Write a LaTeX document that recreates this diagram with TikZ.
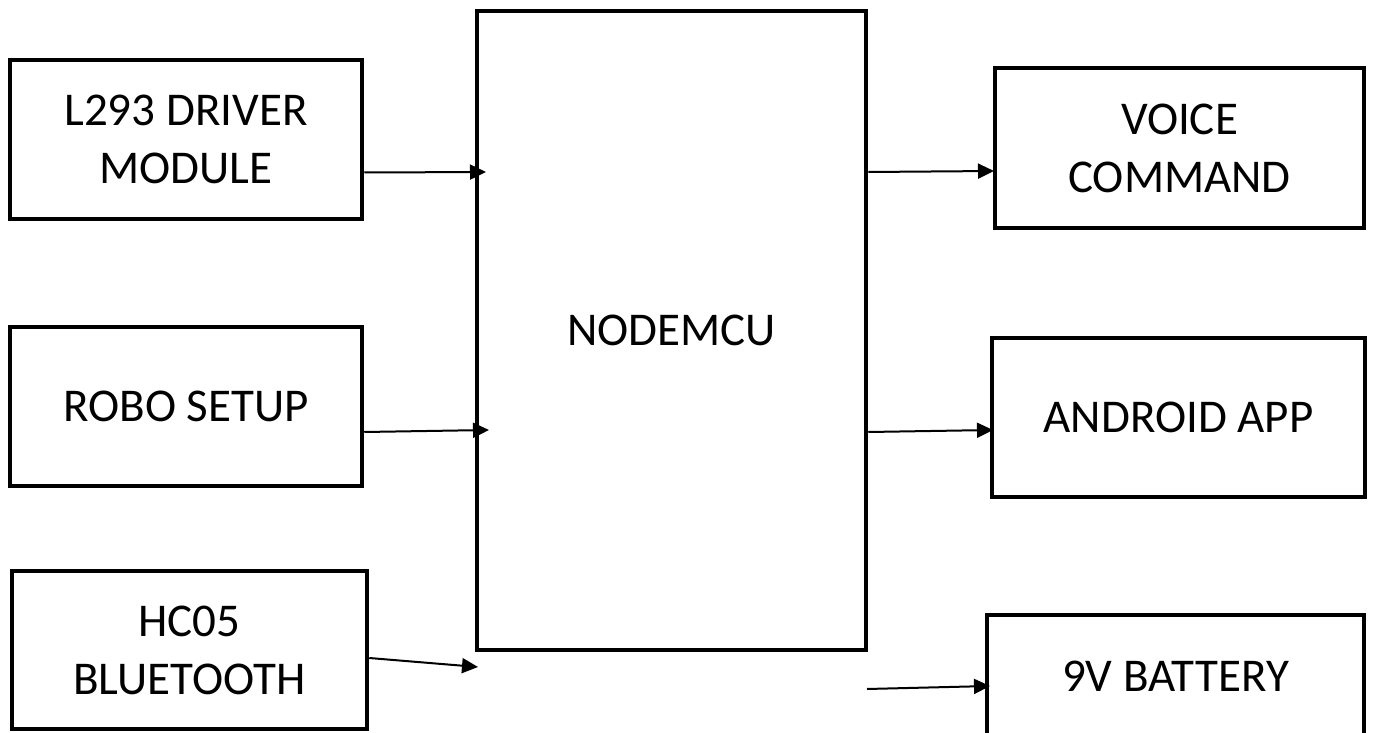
\documentclass[tikz,border=0pt]{standalone}
\usepackage{fontspec}
\setmainfont{Carlito}
\usetikzlibrary{arrows.meta}
\begin{document}
\begin{tikzpicture}[x=1pt,y=-1pt,
  blk/.style={draw, line width=4.5pt, inner sep=0pt, align=center,
    font=\fontsize{47}{58}\selectfont},
  arr/.style={line width=2pt, -{Triangle[length=16pt,width=15pt]}}]
\useasboundingbox (0,0) rectangle (1393,733);
\clip (0,0) rectangle (1393,733);
% left column
\node[blk, minimum width=352pt, minimum height=159pt] (l293) at (186,139.5) {L293 DRIVER\\MODULE};
\node[blk, minimum width=352pt, minimum height=159pt] (robo) at (186,406.5) {ROBO SETUP};
\node[blk, minimum width=355pt, minimum height=158pt] (hc05) at (189.5,650) {HC05\\BLUETOOTH};
% centre
\node[blk, minimum width=389pt, minimum height=639pt] (mcu) at (671.5,330.5) {NODEMCU};
% right column
\node[blk, minimum width=369pt, minimum height=160pt] (voice) at (1179.5,148) {VOICE\\COMMAND};
\node[blk, minimum width=373pt, minimum height=159pt] (android) at (1178.5,417.5) {ANDROID APP};
\node[blk, minimum width=377pt, minimum height=122pt] (battery) at (1175.5,676) {9V BATTERY};
% arrow tips and free ends
\coordinate (t1) at (486,172);
\coordinate (t2) at (489,430);
\coordinate (t3) at (478,667);
\coordinate (t4) at (994,171);
\coordinate (t5) at (993,430);
\coordinate (s6) at (867,689);
\coordinate (t6) at (990,686);
% connectors
\draw[arr] ([yshift=-33pt]l293.east) -- (t1);
\draw[arr] ([yshift=-25.5pt]robo.east) -- (t2);
\draw[arr] ([yshift=-8pt]hc05.east) -- (t3);
\draw[arr] ([yshift=158.5pt]mcu.east) -- (t4);
\draw[arr] ([yshift=-101.5pt]mcu.east) -- (t5);
\draw[arr] (s6) -- (t6);
\end{tikzpicture}
\end{document}
